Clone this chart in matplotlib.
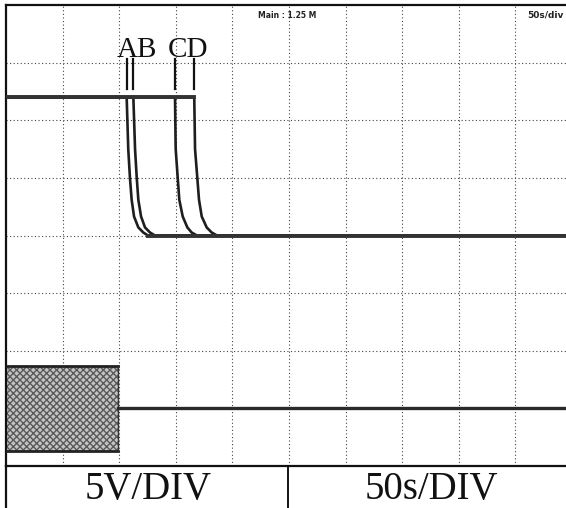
import matplotlib
matplotlib.use("Agg")
import matplotlib.pyplot as plt
from matplotlib.lines import Line2D

# ---------------- data ----------------
# Channel 1: four discharge traces (time in s, voltage in V)
trace_names = ["A", "B", "C", "D"]
trace_a_t = [0, 106.6, 108.0, 109.5, 111.0, 113.1, 116.9, 121.3, 125.4, 500]
trace_b_t = [0, 112.5, 114.0, 115.5, 116.9, 119.3, 122.8, 127.2, 131.6, 500]
trace_c_t = [0, 149.3, 149.9, 151.7, 153.1, 156.1, 160.2, 164.0, 168.7, 500]
trace_d_t = [0, 166.3, 167.0, 169.0, 170.5, 172.9, 177.3, 181.7, 186.4, 500]
trace_v = [12.0, 12.0, 7.5, 5.0, 3.1, 1.65, 0.7, 0.26, 0.0, 0.0]

# Channel 2: switching burst (envelope) followed by idle level
burst_t = [0, 99]
burst_hi = [3.7, 3.7]
burst_lo = [-3.7, -3.7]
idle_t = [99, 500]
idle_v = [0.0, 0.0]

# Cursor marks above each trace (V on channel 1)
mark_lo, mark_hi = 12.7, 15.3
label_groups = ["AB", "CD"]
label_t = [115.7, 160.8]
label_v = 15.45

volts_label = "5V/DIV"
time_label = "50s/DIV"
header_main = "Main : 1.25 M"
header_rate = "50s/div"

# ---------------- scope scaling ----------------
VOLTS_PER_DIV = 5.0
CH1_OFFSET = 4.0   # divisions above the bottom of the screen
CH2_OFFSET = 1.0


def ch1(v):
    return [CH1_OFFSET + x / VOLTS_PER_DIV for x in v]


def ch2(v):
    return [CH2_OFFSET + x / VOLTS_PER_DIV for x in v]


W, H = 566, 508
fig = plt.figure(figsize=(W / 100, H / 100), dpi=100)
fig.patch.set_facecolor("white")

# screen area: 10 x 8 divisions, 50 s per division
left_px, top_px, bottom_px = 6, 5, 466
ax = fig.add_axes([left_px / W, (H - bottom_px) / H, 566 / W, (bottom_px - top_px) / H])
ax.set_xlim(0, 500)
ax.set_ylim(0, 8)
ax.set_xticks(range(50, 500, 50))
ax.set_yticks(range(1, 8))
ax.tick_params(length=0, labelbottom=False, labelleft=False)
ax.grid(True, color="#444444", linestyle=(0, (1, 2.2)), linewidth=0.8)
for side in ("right", "bottom"):
    ax.spines[side].set_visible(False)
for side in ("top", "left"):
    ax.spines[side].set_linewidth(1.6)
    ax.spines[side].set_color("#111111")

# channel 2 burst envelope and idle trace
ax.fill_between(burst_t, ch2(burst_lo), ch2(burst_hi), facecolor="#c4c4c4",
                edgecolor="#5a5a5a", hatch="xxxxx", linewidth=0, zorder=2)
ax.plot(burst_t, ch2(burst_hi), color="#222222", lw=2.0, zorder=3)
ax.plot(burst_t, ch2(burst_lo), color="#222222", lw=2.0, zorder=3)
ax.plot([burst_t[-1]] * 2, [ch2(burst_lo)[0], ch2(burst_hi)[0]], color="#333333", lw=1.0, zorder=3)
ax.plot(idle_t, ch2(idle_v), color="#2a2a2a", lw=2.4, zorder=3)

# channel 1 traces
traces = [trace_a_t, trace_b_t, trace_c_t, trace_d_t]
for t in traces:
    ax.plot(t, ch1(trace_v), color="#1e1e1e", lw=1.9, solid_joinstyle="round", zorder=4)
# persistence-thickened high and low levels
ax.plot([0, max(t[1] for t in traces)], ch1([trace_v[0]] * 2), color="#333333", lw=2.8, zorder=4)
ax.plot([min(t[-2] for t in traces), 500], ch1([0, 0]), color="#333333", lw=2.8, zorder=4)

# cursor marks and labels
for t in traces:
    ax.plot([t[1], t[1]], ch1([mark_lo, mark_hi]), color="#111111", lw=1.6, zorder=5)
for txt, tx in zip(label_groups, label_t):
    ax.text(tx, ch1([label_v])[0], txt, ha="center", va="baseline",
            fontsize=21, family="Liberation Serif", color="#111111", zorder=6)

# header readouts
fig.text(287 / W, (H - 15) / H, header_main, ha="center", va="center", fontsize=5.5,
         family=["Liberation Sans Narrow", "DejaVu Sans"], fontweight="bold", color="#222222")
fig.text(545 / W, (H - 15) / H, header_rate, ha="center", va="center", fontsize=6.5,
         family=["Liberation Sans Narrow", "DejaVu Sans"], fontweight="bold", color="#222222")

# scale box under the screen
fig.add_artist(Line2D([left_px / W, 1], [(H - bottom_px) / H] * 2, color="#111111", lw=1.6))
fig.add_artist(Line2D([left_px / W] * 2, [0, (H - bottom_px) / H], color="#111111", lw=1.6))
fig.add_artist(Line2D([288 / W] * 2, [0, (H - bottom_px) / H], color="#111111", lw=1.4))
fig.text(148.5 / W, 8.5 / H, volts_label, ha="center", va="baseline", fontsize=28,
         family="Liberation Serif", color="#111111")
fig.text(431.5 / W, 8.5 / H, time_label, ha="center", va="baseline", fontsize=28,
         family="Liberation Serif", color="#111111")

fig.savefig("out.png", dpi=100, facecolor="white")
